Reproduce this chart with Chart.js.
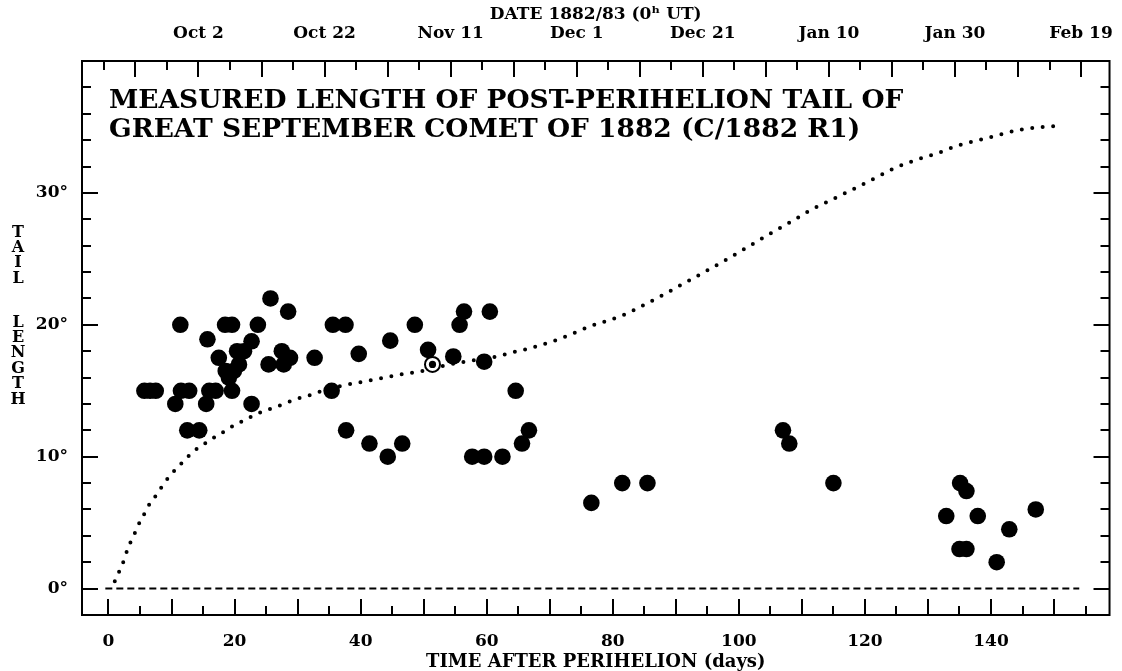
<!DOCTYPE html>
<html>
<head>
<meta charset="utf-8">
<title>Tail length of C/1882 R1</title>
<script src="https://cdn.jsdelivr.net/npm/chart.js@4.4.1/dist/chart.umd.min.js"></script>
<style>
  html, body { margin: 0; padding: 0; background: #fff; }
  canvas { display: block; }
</style>
</head>
<body>
<canvas id="tailChart" width="1122" height="671"></canvas>
<script>
'use strict'

// observed tail lengths (days after perihelion, degrees)
const obsDays = [5.7, 6.6, 7.5, 10.6, 11.4, 11.5, 12.8, 12.5, 14.4, 15.5, 15.7, 16.0, 17.0, 17.5, 18.5, 19.6,
  18.6, 19.9, 19.1, 19.6, 20.4, 21.5, 20.7, 22.7, 22.7, 23.7, 25.7, 25.4, 27.5, 27.8, 28.5, 28.8, 32.7,
  35.6, 37.6, 35.4, 37.7, 39.7, 41.4, 44.3, 44.7, 46.6, 48.6, 50.7, 54.7, 55.7, 56.4, 57.7, 59.6, 59.6,
  60.5, 62.5, 64.6, 65.6, 66.7, 76.6, 81.5, 85.5, 107.0, 108.0, 115.0, 132.9, 135.1, 136.1, 137.9, 135.0,
  136.1, 140.9, 142.9, 147.1]
const obsDeg = [15, 15, 15, 14, 20, 15, 15, 12, 12, 14, 18.9, 15, 15, 17.5, 20, 20,
  16.5, 16.5, 16.0, 15, 18, 18, 17, 18.75, 14, 20, 22, 17, 18, 17, 21, 17.5, 17.5,
  20, 20, 15, 12, 17.8, 11, 10, 18.8, 11, 20, 18.1, 17.6, 20, 21, 10, 10, 17.2,
  21, 10, 15, 11, 12, 6.5, 8, 8, 12, 11, 8, 5.5, 8, 7.4, 5.5, 3,
  3, 2, 4.5, 6]

// the one marked observation
const markedDay = [51.4]
const markedDeg = [17.0]

// dotted model curve
const curveDays = [1.0, 1.8, 2.5, 3.1, 3.9, 4.7, 5.5, 6.5, 7.6, 8.7, 9.8, 11.2, 12.6, 13.9, 15.3, 16.9, 18.5,
  20.0, 21.7, 23.3, 24.9, 26.7, 28.3, 30.0, 31.6, 33.3, 36.7, 40.0, 43.3, 46.6, 49.9, 53.2, 56.6, 61.6,
  64.9, 66.7, 71.6, 76.5, 81.5, 84.9, 88.1, 91.5, 94.9, 98.2, 101.4, 104.9, 108.2, 111.4, 114.8, 118.2,
  121.5, 124.8, 128.1, 131.5, 134.8, 138.1, 141.3, 144.7, 148.1, 150.0]
const curveDeg = [0.55, 1.4, 2.2, 3.1, 3.9, 4.8, 5.5, 6.4, 7.1, 7.9, 8.6, 9.3, 10.0, 10.55, 11.0, 11.5, 11.95,
  12.4, 12.8, 13.2, 13.5, 13.8, 14.1, 14.4, 14.6, 14.9, 15.35, 15.65, 15.95, 16.25, 16.5, 16.9, 17.2, 17.6,
  18.0, 18.2, 18.94, 19.9, 20.7, 21.5, 22.3, 23.2, 24.1, 25.0, 25.9, 26.9, 27.8, 28.7, 29.5, 30.3,
  31.1, 31.9, 32.5, 33.0, 33.6, 34.0, 34.4, 34.8, 35.0, 35.06]

// zero reference line
const zeroDays = [-0.5, 154]

// axis ticks
const dayTicks = [0, 20, 40, 60, 80, 100, 120, 140]
const degTicks = [0, 10, 20, 30]
const dateDays = [14.28, 34.28, 54.28, 74.28, 94.28, 114.28, 134.28, 154.28]
const dateLabels = ['Oct 2', 'Oct 22', 'Nov 11', 'Dec 1', 'Dec 21', 'Jan 10', 'Jan 30', 'Feb 19']

const X_MIN = -4.2
const X_MAX = 158.8
const Y_MIN = -2
const Y_MAX = 40

const SERIF = "'DejaVu Serif', 'Liberation Serif', serif"

const pts = (xs, ys) => xs.map((x, i) => ({ x, y: ys[i] }))

// frame, inward ticks, stacked y title and the in-plot heading
const framePlugin = {
  id: 'framePlugin',
  afterDraw(chart) {
    const { ctx, chartArea: a, scales } = chart
    const x = scales.x
    const y = scales.y
    const seg = (x1, y1, x2, y2) => { ctx.moveTo(x1, y1); ctx.lineTo(x2, y2) }
    ctx.save()
    ctx.strokeStyle = '#000'
    ctx.lineWidth = 2
    ctx.beginPath()
    for (let d = 0; d <= X_MAX; d += 5) {
      const px = Math.round(x.getPixelForValue(d))
      seg(px, a.bottom, px, a.bottom - (d % 10 === 0 ? 16 : 9))
    }
    for (let k = -3; ; k++) {
      const d = dateDays[0] + 5 * k
      if (d > X_MAX) break
      if (d < X_MIN) continue
      const px = Math.round(x.getPixelForValue(d))
      seg(px, a.top, px, a.top + (k % 2 === 0 ? 16 : 9))
    }
    for (let v = 0; v < Y_MAX; v += 2) {
      const py = Math.round(y.getPixelForValue(v))
      const len = v % 10 === 0 ? 16 : 9
      seg(a.left, py, a.left + len, py)
      seg(a.right, py, a.right - len, py)
    }
    ctx.stroke()
    ctx.strokeRect(a.left, a.top, a.right - a.left, a.bottom - a.top)

    ctx.fillStyle = '#000'
    ctx.font = 'bold 16px ' + SERIF
    ctx.textAlign = 'center'
    ctx.textBaseline = 'middle'
    const tail = [['T', 233], ['A', 248], ['I', 263], ['L', 279],
      ['L', 323], ['E', 338], ['N', 353], ['G', 369], ['T', 384], ['H', 400]]
    tail.forEach(([ch, py]) => ctx.fillText(ch, 18, py))

    ctx.font = 'bold 26.5px ' + SERIF
    ctx.textAlign = 'left'
    ctx.textBaseline = 'alphabetic'
    ctx.fillText('MEASURED LENGTH OF POST-PERIHELION TAIL OF', 109, 108)
    ctx.fillText('GREAT SEPTEMBER COMET OF 1882 (C/1882 R1)', 109, 137)
    ctx.restore()
  }
}

const tickFont = { family: SERIF, size: 17, weight: 'bold' }

// eslint-disable-next-line no-undef
new Chart(document.getElementById('tailChart').getContext('2d'), {
  type: 'scatter',
  data: {
    datasets: [
      {
        type: 'line',
        label: 'model',
        data: pts(curveDays, curveDeg),
        borderColor: '#000',
        borderWidth: 4,
        borderDash: [0, 10.5],
        borderCapStyle: 'round',
        cubicInterpolationMode: 'monotone',
        pointRadius: 0,
        fill: false,
        order: 5
      },
      {
        type: 'line',
        label: 'zero',
        data: pts(zeroDays, [0, 0]),
        borderColor: '#000',
        borderWidth: 2,
        borderDash: [7, 4],
        pointRadius: 0,
        fill: false,
        order: 4
      },
      {
        label: 'observed',
        data: pts(obsDays, obsDeg),
        backgroundColor: '#000',
        borderWidth: 0,
        pointRadius: 8.3,
        order: 3
      },
      {
        label: 'marked ring',
        data: pts(markedDay, markedDeg),
        backgroundColor: '#fff',
        borderColor: '#000',
        borderWidth: 2,
        pointRadius: 7.5,
        order: 2
      },
      {
        label: 'marked dot',
        data: pts(markedDay, markedDeg),
        backgroundColor: '#000',
        borderWidth: 0,
        pointRadius: 3.6,
        order: 1
      }
    ]
  },
  options: {
    responsive: false,
    animation: false,
    events: [],
    layout: { padding: { left: 0, right: 4, top: 0, bottom: 0 } },
    plugins: { legend: { display: false }, tooltip: { enabled: false } },
    scales: {
      x: {
        type: 'linear',
        position: 'bottom',
        min: X_MIN,
        max: X_MAX,
        afterBuildTicks: s => { s.ticks = dayTicks.map(v => ({ value: v })) },
        afterFit: s => { s.height = 56 },
        grid: { display: false },
        border: { display: false },
        ticks: { color: '#000', font: tickFont, padding: 8, maxRotation: 0, autoSkip: false },
        title: {
          display: true,
          text: 'TIME AFTER PERIHELION (days)',
          color: '#000',
          font: { family: SERIF, size: 18, weight: 'bold', lineHeight: 1 },
          padding: { top: 0, bottom: 0 }
        }
      },
      x2: {
        type: 'linear',
        position: 'top',
        min: X_MIN,
        max: X_MAX,
        afterBuildTicks: s => { s.ticks = dateDays.map(v => ({ value: v })) },
        afterFit: s => { s.height = 61 },
        grid: { display: false },
        border: { display: false },
        ticks: {
          color: '#000',
          font: tickFont,
          padding: 9,
          maxRotation: 0,
          autoSkip: false,
          callback: (v, i) => dateLabels[i]
        },
        title: {
          display: true,
          text: 'DATE 1882/83 (0\u02B0 UT)',
          color: '#000',
          font: { family: SERIF, size: 17, weight: 'bold', lineHeight: 1 },
          padding: { top: 6, bottom: 0 }
        }
      },
      y: {
        type: 'linear',
        position: 'left',
        min: Y_MIN,
        max: Y_MAX,
        afterBuildTicks: s => { s.ticks = degTicks.map(v => ({ value: v })) },
        afterFit: s => { s.width = 82 },
        grid: { display: false },
        border: { display: false },
        ticks: { color: '#000', font: tickFont, padding: 6, callback: v => v + '\u00B0' }
      }
    }
  },
  plugins: [framePlugin]
})
</script>
</body>
</html>
